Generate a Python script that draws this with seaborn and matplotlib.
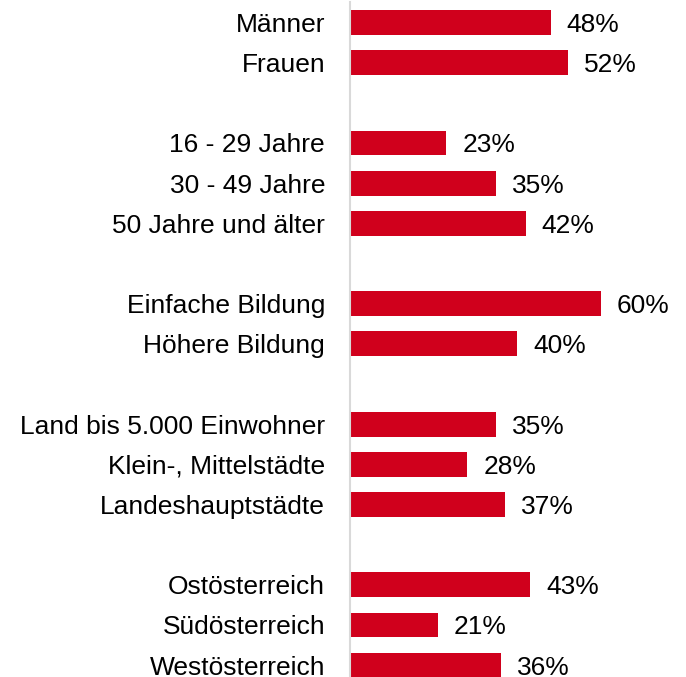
import matplotlib
matplotlib.use("Agg")
import matplotlib.pyplot as plt
import seaborn as sns
import pandas as pd

categories = ["Männer", "Frauen",
              "16 - 29 Jahre", "30 - 49 Jahre", "50 Jahre und älter",
              "Einfache Bildung", "Höhere Bildung",
              "Land bis 5.000 Einwohner", "Klein-, Mittelstädte", "Landeshauptstädte",
              "Ostösterreich", "Südösterreich", "Westösterreich"]
values = [48, 52, 23, 35, 42, 60, 40, 35, 28, 37, 43, 21, 36]

groups = [["Männer", "Frauen"],
          ["16 - 29 Jahre", "30 - 49 Jahre", "50 Jahre und älter"],
          ["Einfache Bildung", "Höhere Bildung"],
          ["Land bis 5.000 Einwohner", "Klein-, Mittelstädte", "Landeshauptstädte"],
          ["Ostösterreich", "Südösterreich", "Westösterreich"]]

order = []
for i, g in enumerate(groups):
    if i > 0:
        order.append(f"_gap{i}")
    order.extend(g)
ticklabels = ["" if o.startswith("_gap") else o for o in order]

df = pd.DataFrame({"category": categories, "value": values})

sns.set_style("white")
plt.rcParams["font.family"] = ["Liberation Sans", "DejaVu Sans"]

fig = plt.figure(figsize=(6.86, 6.77), dpi=100)
ax = fig.add_axes([350 / 686, 1 - 685.2 / 677, 336 / 686, 682.8 / 677])

sns.barplot(data=df, x="value", y="category", order=order, orient="h",
            color="#D0001C", saturation=1, width=0.62, linewidth=0, ax=ax)

ax.set_xlim(0, 336 / 4.185)
ax.set_yticks(range(len(order)))
ax.set_yticklabels(ticklabels, fontsize=19, color="black")
ax.tick_params(axis="y", length=0, pad=18)
ax.set_xticks([])
ax.set_xlabel("")
ax.set_ylabel("")
for s in ["top", "right", "bottom"]:
    ax.spines[s].set_visible(False)
ax.spines["left"].set_color("#d9d9d9")
ax.spines["left"].set_linewidth(1.5)

for c in ax.containers:
    texts = ax.bar_label(c, fmt="{:.0f}%", padding=11.5, fontsize=19, color="black")
    for t in texts:
        t.set_verticalalignment("center_baseline")

fig.savefig("out.png", dpi=100)
